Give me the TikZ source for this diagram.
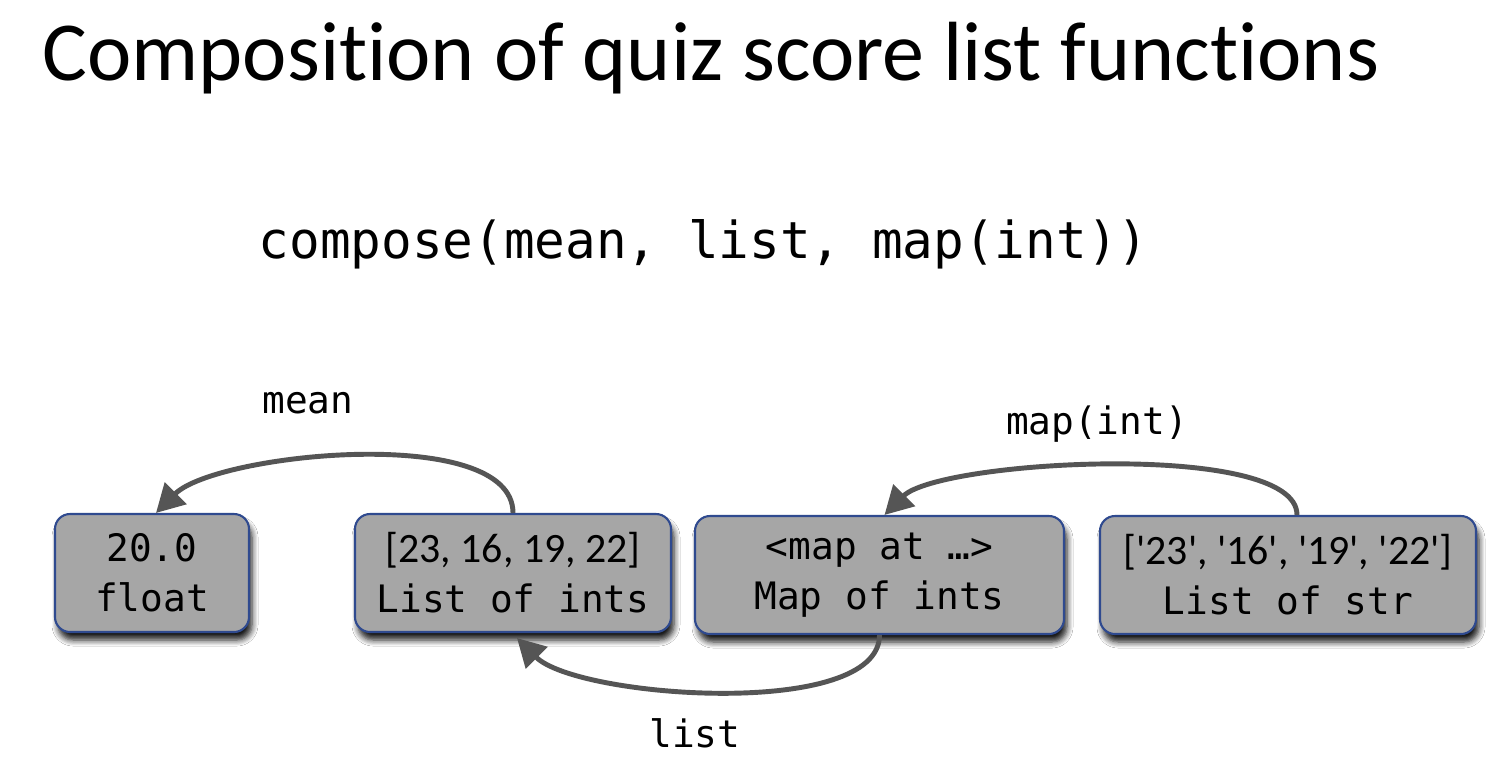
\documentclass[tikz,border=0pt]{standalone}
\usepackage{fontspec}
\setmainfont{Carlito}[Ligatures={TeX,NoCommon}]
\setmonofont{DejaVu Sans Mono}
\newfontfamily\listfont{Carlito}
\usepackage{xcolor}
\usepackage{tikz}
\usetikzlibrary{positioning,arrows.meta,shadows.blur}

\definecolor{boxgray}{HTML}{A6A6A6}
\definecolor{boxblue}{HTML}{2F4A8F}
\definecolor{arrowgray}{HTML}{555555}

\begin{document}
\begin{tikzpicture}[
    valbox/.style={draw=boxblue, line width=0.6pt, fill=boxgray, rounded corners=0.15cm,
        minimum height=1.18cm, inner sep=0pt, align=center,
        font=\ttfamily\fontsize{10.75}{14.2}\selectfont,
        blur shadow={shadow xshift=0.03cm, shadow yshift=-0.08cm, shadow blur radius=0.06cm, shadow blur steps=6, shadow opacity=90}},
    fnarrow/.style={draw=arrowgray, line width=1.4pt, -{Triangle[length=0.28cm,width=0.3cm]}},
    fnlabel/.style={font=\ttfamily\fontsize{10.75}{14.2}\selectfont, inner sep=0pt}
]
\fill[white] (0,0) rectangle (15.06,-7.58);
\useasboundingbox (0,0) rectangle (15.06,-7.58);

\node (title) at (0.42,-0.80) [anchor=base west, inner sep=0pt, font=\fontsize{23.9}{29}\selectfont] {Composition of quiz score list functions};
\node (compose) at (2.58,-2.58) [anchor=base west, inner sep=0pt, font=\ttfamily\fontsize{14.5}{17}\selectfont] {compose(mean, list, map(int))};

\node (flt) at (1.52,-5.73) [valbox, minimum width=1.94cm] {20.0\\float};
\node (ints) at (5.13,-5.73) [valbox, minimum width=3.16cm] {{\listfont\fontsize{11.9}{14.2}\selectfont [23, 16, 19, 22]}\\List of ints};
\node (mapobj) at (8.795,-5.75) [valbox, minimum width=3.69cm] {<map at …>\\Map of ints};
\node (strs) at (12.88,-5.75) [valbox, minimum width=3.76cm] {{\listfont\fontsize{11.9}{14.2}\selectfont ['23', '16', '19', '22']}\\List of str};

\node (meanlbl) at (3.08,-4.03) [fnlabel] {mean};
\node (maplbl) at (10.97,-4.24) [fnlabel] {map(int)};
\node (listlbl) at (6.95,-7.33) [fnlabel] {list};

\draw[fnarrow] (ints.north) .. controls +(0,0.9) and +(0.6,0.6) .. ([xshift=0.04cm]flt.north);
\draw[fnarrow] ([xshift=0.09cm]strs.north) .. controls +(0,0.75) and +(0.55,0.55) .. ([xshift=0.05cm]mapobj.north);
\draw[fnarrow] (mapobj.south) .. controls +(0,-0.85) and +(0.6,-0.6) .. ([xshift=0.04cm,yshift=-0.05cm]ints.south);
\end{tikzpicture}
\end{document}
